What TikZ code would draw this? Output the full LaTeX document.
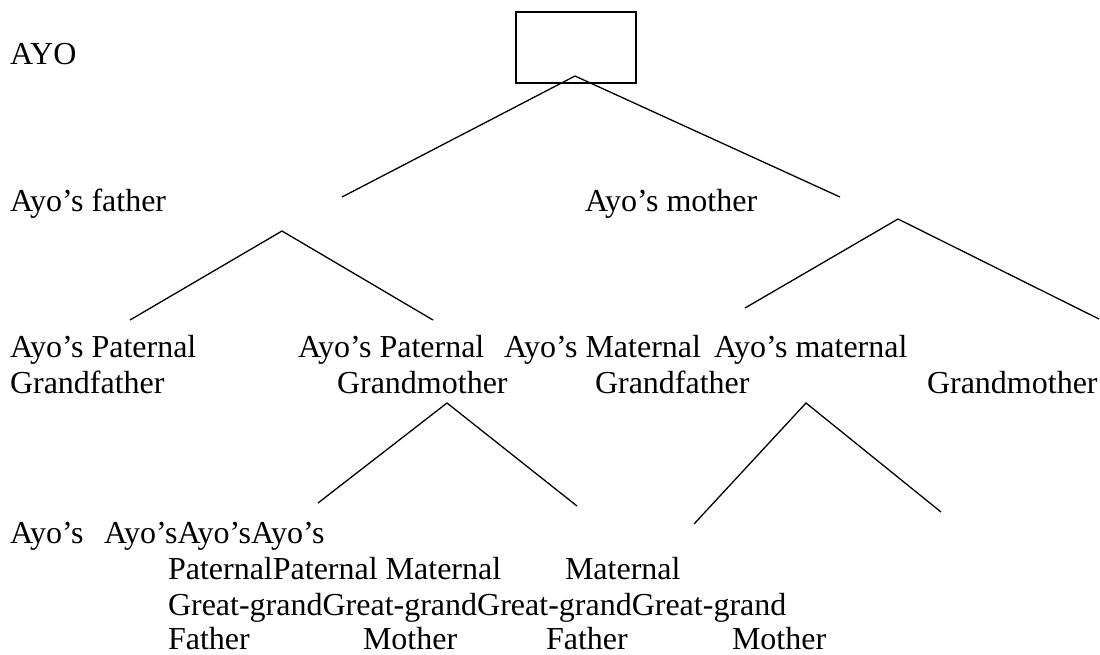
\documentclass[tikz,border=0pt]{standalone}
\usepackage{fontspec}
\setmainfont{Liberation Serif}
\begin{document}
\begin{tikzpicture}[x=1pt,y=-1pt,
  lbl/.style={anchor=base west,inner sep=0pt,outer sep=0pt,font=\fontsize{32}{36}\selectfont},
  branch/.style={draw=black,line width=1.3pt},
  rootbox/.style={draw=black,line width=1.8pt}]
\useasboundingbox (0,0) rectangle (1100,654);
% root box
\draw[rootbox] (516,12) rectangle (636,83);
% texts
\node[lbl] (ayo) at (10,64) {AYO};
\node[lbl] (fa) at (10,211) {Ayo’s father};
\node[lbl] (mo) at (585,211) {Ayo’s mother};
\node[lbl] (pgf1) at (10,357) {Ayo’s Paternal};
\node[lbl] (pgf2) at (10,393) {Grandfather};
\node[lbl] (pgm1) at (298,357) {Ayo’s Paternal};
\node[lbl] (pgm2) at (337,393) {Grandmother};
\node[lbl] (mgf1) at (504,357) {Ayo’s Maternal};
\node[lbl] (mgf2) at (595,393) {Grandfather};
\node[lbl] (mgm1) at (714,357) {Ayo’s maternal};
\node[lbl] (mgm2) at (927,393) {Grandmother};
\node[lbl] (g1a) at (10,543) {Ayo’s};
\node[lbl] (g1b) at (104,543) {Ayo’sAyo’sAyo’s};
\node[lbl] (g2a) at (168,579) {PaternalPaternal Maternal};
\node[lbl] (g2b) at (565,579) {Maternal};
\node[lbl] (g3) at (168,615) {Great-grandGreat-grandGreat-grandGreat-grand};
\node[lbl] (g4a) at (168,649) {Father};
\node[lbl] (g4b) at (363,649) {Mother};
\node[lbl] (g4c) at (546,649) {Father};
\node[lbl] (g4d) at (732,649) {Mother};
% connector points
\coordinate (r0) at (575,76);
\coordinate (r0l) at (342,197);
\coordinate (r0r) at (840,197);
\coordinate (f0) at (282,231);
\coordinate (f0l) at (130,320);
\coordinate (f0r) at (433,320);
\coordinate (m0) at (898,219);
\coordinate (m0l) at (745,308);
\coordinate (m0r) at (1099,319);
\coordinate (p0) at (447,403);
\coordinate (p0l) at (318,503);
\coordinate (p0r) at (577,506);
\coordinate (q0) at (806,403);
\coordinate (q0l) at (694,524);
\coordinate (q0r) at (941,512);
% branches
\draw[branch] (r0l) -- (r0) -- (r0r);
\draw[branch] (f0l) -- (f0) -- (f0r);
\draw[branch] (m0l) -- (m0) -- (m0r);
\draw[branch] (p0l) -- (p0) -- (p0r);
\draw[branch] (q0l) -- (q0) -- (q0r);
\end{tikzpicture}
\end{document}
